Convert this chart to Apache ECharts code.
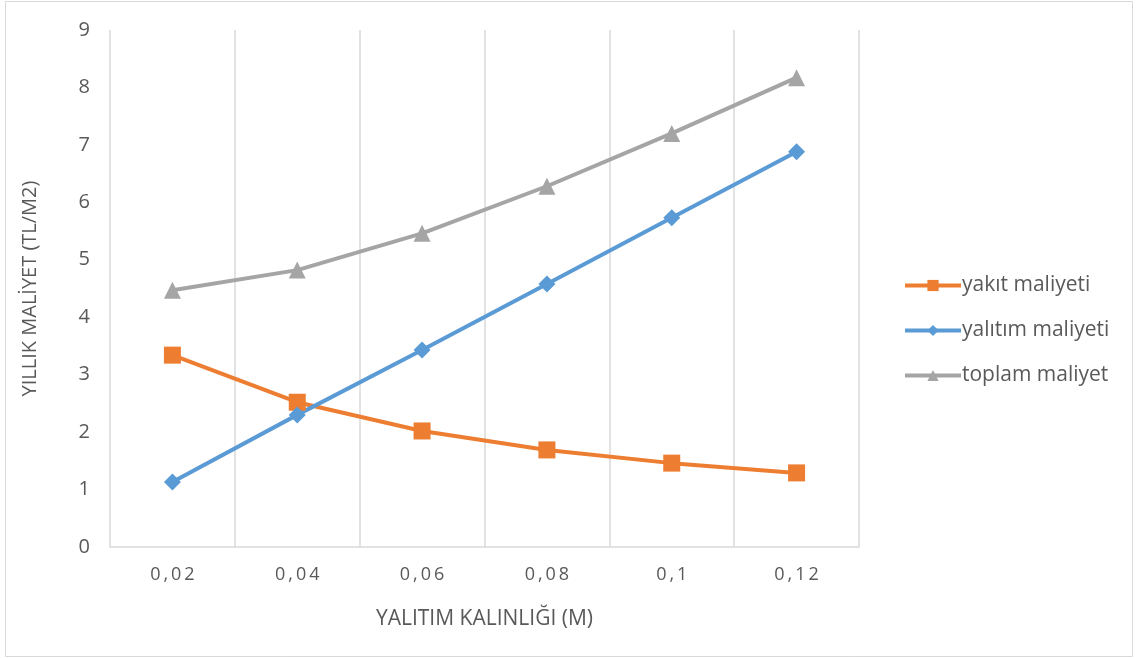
<!DOCTYPE html>
<html><head><meta charset="utf-8">
<script src="https://cdn.jsdelivr.net/npm/echarts@6/dist/echarts.min.js"></script>
<style>html,body{margin:0;padding:0;background:#fff}#c{width:1136px;height:658px}</style>
</head><body><div id="c"></div>
<script>
const categories = ["0,02", "0,04", "0,06", "0,08", "0,1", "0,12"];
const yakit = [3.34, 2.52, 2.02, 1.69, 1.46, 1.29];
const yalitim = [1.13, 2.30, 3.43, 4.58, 5.73, 6.88];
const toplam = [4.47, 4.82, 5.46, 6.28, 7.20, 8.17];
const seriesNames = ["yakıt maliyeti", "yalıtım maliyeti", "toplam maliyet"];
const xTitle = "YALITIM KALINLIĞI (M)";
const yTitle = "YILLIK MALİYET (TL/M2)";

const font = "'Open Sans', 'Noto Sans', sans-serif";
const txt = "#595959";
const chart = echarts.init(document.getElementById('c'));
const mk = (name, data, color, symbol, size) => ({
  name, type: 'line', data, symbol, symbolSize: size,
  lineStyle: {color, width: 4}, itemStyle: {color},
  emphasis: {disabled: true}
});
chart.setOption({
  animation: false,
  graphic: [{type: 'rect', shape: {x: 5.5, y: 1.5, width: 1127, height: 655},
    style: {fill: 'none', stroke: '#d9d9d9', lineWidth: 1}}],
  grid: {left: 110, right: 277, top: 30, bottom: 111},
  legend: {
    orient: 'vertical', left: 898, top: 270, itemGap: 24,
    itemWidth: 56, itemHeight: 14,
    lineStyle: {width: 4},
    textStyle: {color: txt, fontSize: 21, fontFamily: font, padding: [0, 0, 0, -4]},
    data: seriesNames
  },
  xAxis: {
    type: 'category', data: categories, boundaryGap: true,
    axisLine: {lineStyle: {color: '#d9d9d9', width: 1.5}},
    axisTick: {show: false},
    splitLine: {show: true, lineStyle: {color: '#d9d9d9', width: 1.5}},
    axisLabel: {color: txt, fontSize: 18, fontFamily: font, margin: 19,
      formatter: v => v.split('').join('\u2009')},
    name: xTitle, nameLocation: 'middle', nameGap: 62,
    nameTextStyle: {color: txt, fontSize: 21, fontFamily: font}
  },
  yAxis: {
    type: 'value', min: 0, max: 9, interval: 1,
    axisLine: {show: false}, axisTick: {show: false},
    splitLine: {show: false},
    axisLabel: {color: txt, fontSize: 20, fontFamily: font, margin: 20},
    name: yTitle, nameLocation: 'middle', nameGap: 70, nameRotate: 90,
    nameTextStyle: {color: txt, fontSize: 20, fontFamily: font}
  },
  series: [
    mk(seriesNames[0], yakit, '#ed7d31', 'rect', 17),
    mk(seriesNames[1], yalitim, '#5b9bd5', 'diamond', 17),
    mk(seriesNames[2], toplam, '#a5a5a5', 'triangle', 17)
  ]
});
</script></body></html>
